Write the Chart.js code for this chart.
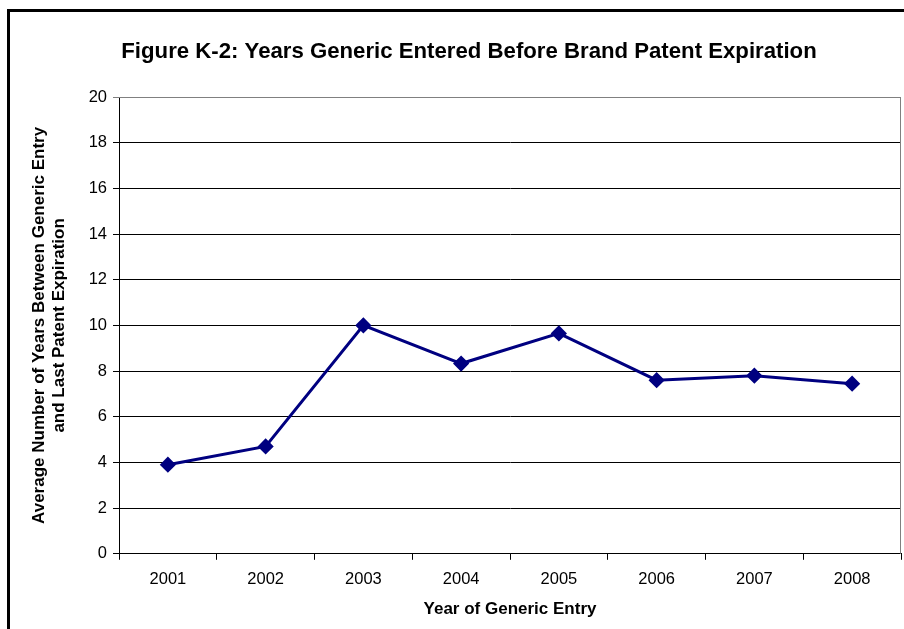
<!DOCTYPE html>
<html>
<head>
<meta charset="utf-8">
<title>Figure K-2</title>
<script src="https://cdn.jsdelivr.net/npm/chart.js@4"></script>
<style>
    body { margin: 0; background: #fff; }
    #wrap { width: 904px; height: 629px; position: relative; }
</style>
</head>
<body>
<div id="wrap"><canvas id="chart" width="904" height="629"></canvas></div>
<script>
// Years of generic entry and average years before last patent expiration
const years = ['2001', '2002', '2003', '2004', '2005', '2006', '2007', '2008'];
const avgYears = [3.9, 4.7, 10.0, 8.33, 9.65, 7.6, 7.8, 7.45];
const yTicks = [0, 2, 4, 6, 8, 10, 12, 14, 16, 18, 20];

const chartTitle = 'Figure K-2: Years Generic Entered Before Brand Patent Expiration';
const xTitle = 'Year of Generic Entry';
const yTitle = ['Average Number of Years Between Generic Entry', 'and Last Patent Expiration'];

const FONT = '"Liberation Sans", Arial, sans-serif';

/**
 * Frame, heading and the grey plot-area edges (top and right)
 */
const decorations = {
    id: 'decorations',
    beforeDraw(chart) {
        const ctx = chart.ctx;
        ctx.save();
        ctx.strokeStyle = '#000';
        ctx.lineWidth = 3;
        ctx.beginPath();
        ctx.moveTo(8.5, 629);
        ctx.lineTo(8.5, 10.5);
        ctx.lineTo(904, 10.5);
        ctx.stroke();

        ctx.fillStyle = '#000';
        ctx.font = 'bold 22.2px ' + FONT;
        ctx.textAlign = 'center';
        ctx.textBaseline = 'middle';
        ctx.fillText(chartTitle, 469, 52);
        ctx.restore();
    },
    beforeDatasetsDraw(chart) {
        const a = chart.chartArea;
        const ctx = chart.ctx;
        ctx.save();
        ctx.strokeStyle = '#808080';
        ctx.lineWidth = 1;
        ctx.beginPath();
        ctx.moveTo(a.left, a.top + 0.5);
        ctx.lineTo(a.right - 0.5, a.top + 0.5);
        ctx.lineTo(a.right - 0.5, a.bottom);
        ctx.stroke();
        ctx.restore();
    }
};

Chart.defaults.font.family = FONT;
Chart.defaults.color = '#000';

new Chart(document.getElementById('chart'), {
    type: 'line',
    data: {
        labels: years,
        datasets: [{
            data: avgYears,
            borderColor: '#000080',
            backgroundColor: '#000080',
            borderWidth: 3,
            pointStyle: 'rectRot',
            pointRadius: 6,
            pointHoverRadius: 6,
            tension: 0
        }]
    },
    options: {
        responsive: false,
        animation: false,
        events: [],
        layout: { autoPadding: false, padding: { left: 0, right: 3, top: 97, bottom: 5 } },
        plugins: {
            legend: { display: false },
            title: { display: false },
            tooltip: { enabled: false }
        },
        scales: {
            x: {
                offset: true,
                afterFit(scale) {
                    scale.paddingLeft = 0;
                    scale.paddingRight = 0;
                },
                grid: {
                    offset: true,
                    drawOnChartArea: false,
                    drawTicks: true,
                    tickLength: 6,
                    color: '#000'
                },
                border: { color: '#000', width: 1 },
                ticks: { font: { size: 16.5 }, padding: 10, maxRotation: 0 },
                title: {
                    display: true,
                    text: xTitle,
                    font: { size: 17, weight: 'bold' },
                    padding: { top: 0, bottom: 4 }
                }
            },
            y: {
                min: 0,
                max: 20,
                afterBuildTicks(scale) {
                    scale.ticks = yTicks.map(v => ({ value: v }));
                },
                afterFit(scale) {
                    scale.width = 119;
                },
                grid: {
                    color: ctx => (ctx.tick && ctx.tick.value === 20) ? '#808080' : '#000',
                    drawTicks: true,
                    tickLength: 6
                },
                border: { color: '#000', width: 1 },
                ticks: { font: { size: 16.5 }, padding: 6 },
                title: {
                    display: true,
                    text: yTitle,
                    font: { size: 17, weight: 'bold', lineHeight: 1.18 },
                    padding: { top: 29, bottom: 4 }
                }
            }
        }
    },
    plugins: [decorations]
});
</script>
</body>
</html>
